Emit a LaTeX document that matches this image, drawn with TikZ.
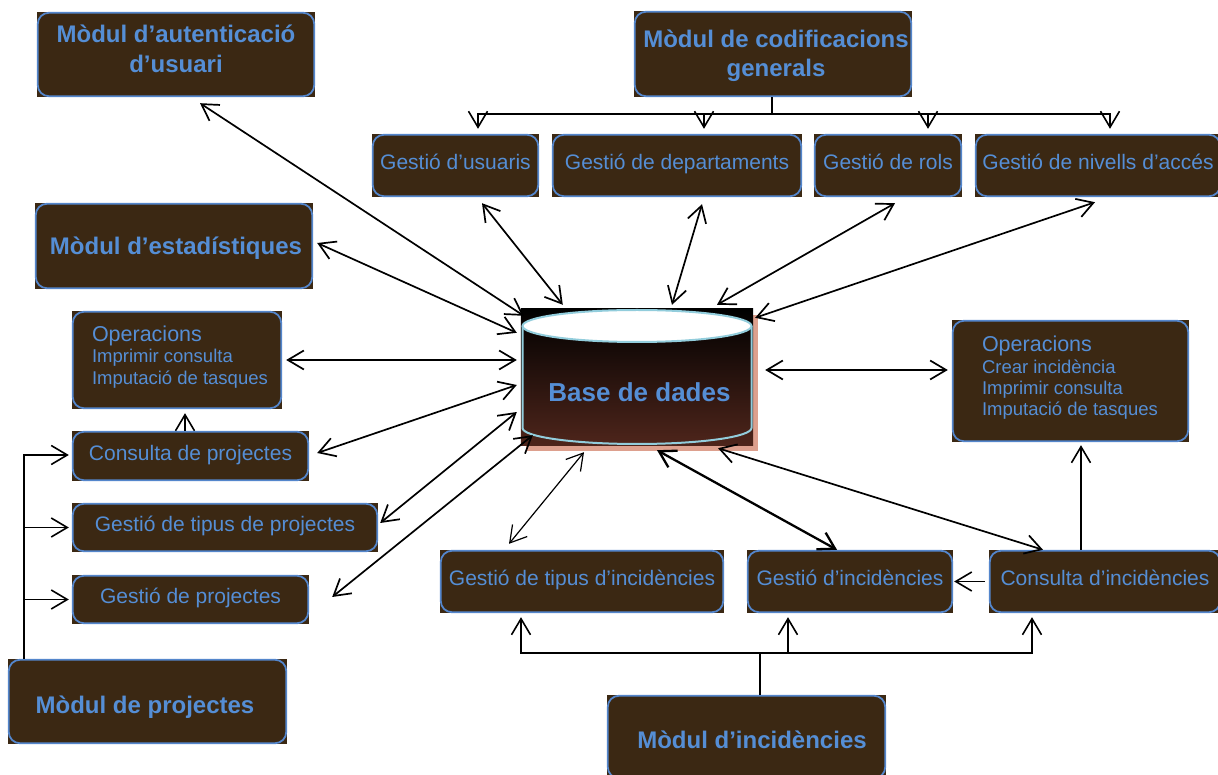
\documentclass[tikz,border=0pt]{standalone}
\usepackage{fontspec}
\setmainfont{Liberation Sans}
\usetikzlibrary{arrows.meta}
\definecolor{boxfill}{RGB}{59,40,19}
\definecolor{txtblue}{RGB}{85,142,213}
\definecolor{edgeblue}{RGB}{84,134,204}
\definecolor{cylline}{RGB}{146,205,220}
\definecolor{dbbottom}{RGB}{78,37,27}
\definecolor{dbshadow}{RGB}{221,160,142}

\begin{document}
\begin{tikzpicture}[x=1pt,y=1pt,
  >={Straight Barb[length=16pt,width=19pt]},
  box/.style={fill=boxfill, inner sep=0pt, text=txtblue,
    font=\fontsize{21}{25}\selectfont, text height=14pt, text depth=5pt},
  boxframe/.style={draw=edgeblue, line width=1.8pt, rounded corners=11pt},
  btext/.style={text=txtblue, font=\fontsize{24}{29}\selectfont\bfseries,
    inner sep=0pt, anchor=base},
  dbtext/.style={text=txtblue, font=\fontsize{26}{30}\selectfont\bfseries,
    inner sep=0pt, anchor=base},
  ophead/.style={text=txtblue, font=\fontsize{21.5}{25}\selectfont,
    inner sep=0pt, anchor=base west},
  opitem/.style={text=txtblue, font=\fontsize{18.5}{22}\selectfont,
    inner sep=0pt, anchor=base west},
  cyl/.style={draw=cylline, line width=2pt},
  link/.style={<->, line width=1.7pt},
  tree/.style={line width=1.6pt},
  branch/.style={->, line width=1.6pt},
]
\fill[white] (0,0) rectangle (1218,774);
\useasboundingbox (0,0) rectangle (1218,774);

% database cylinder
\node[minimum width=232pt, minimum height=136pt, inner sep=0pt] (db) at (637,397) {};
\fill[dbshadow] ([shift={(5pt,-6pt)}]db.south west) rectangle ([shift={(5pt,-6pt)}]db.north east);
\shade[top color=black, bottom color=dbbottom] (db.south west) rectangle (db.north east);
\begin{scope}[shift={(db.center)}]
  \draw[cyl] (-114.5,51) -- (-114.5,-51)
    arc[start angle=180, end angle=360, x radius=114.5, y radius=16] -- (114.5,51);
  \filldraw[cyl, fill=white] (0,51) ellipse[x radius=114.5, y radius=16];
\end{scope}
\node[dbtext] (dbT) at ([xshift=2.5pt,yshift=-24.7pt]db.center) {Base de dades};

% module boxes
\node[box, minimum width=278pt, minimum height=85pt] (auth) at (176,719.5) {};
\node[box, minimum width=278pt, minimum height=86pt] (codif) at (773,720) {};
\node[box, minimum width=278pt, minimum height=86pt] (estad) at (174,528) {};
\node[box, minimum width=279pt, minimum height=85pt] (projM) at (147.5,72.5) {};
\node[box, minimum width=279pt, minimum height=84pt] (incM) at (746.5,37) {};

% general codification boxes
\node[box, minimum width=167pt, minimum height=63pt] (usr) at (455.5,608.5) {Gestió d’usuaris};
\node[box, minimum width=250pt, minimum height=63pt] (dep) at (677,608.5) {Gestió de departaments};
\node[box, minimum width=148pt, minimum height=63pt] (rol) at (888,608.5) {Gestió de rols};
\node[box, minimum width=246pt, minimum height=63pt] (niv) at (1098,608.5) {Gestió de nivells d’accés};

% project boxes
\node[box, minimum width=210pt, minimum height=98pt] (opL) at (177,414) {};
\node[box, minimum width=237pt, minimum height=50pt] (cp) at (190.5,318) {Consulta de projectes};
\node[box, minimum width=306pt, minimum height=49pt] (tp) at (225,246.5) {Gestió de tipus de projectes};
\node[box, minimum width=237pt, minimum height=49pt] (gp) at (190.5,174.5) {Gestió de projectes};

% incidence boxes
\node[box, minimum width=237pt, minimum height=122pt] (opR) at (1070.5,393) {};
\node[box, minimum width=284pt, minimum height=63pt] (tinc) at (582,192.5) {Gestió de tipus d’incidències};
\node[box, minimum width=206pt, minimum height=63pt] (ginc) at (850,192.5) {Gestió d’incidències};
\node[box, minimum width=232pt, minimum height=63pt] (cinc) at (1105,192.5) {Consulta d’incidències};

% rounded frames
\foreach \n in {auth,codif,estad,projM,incM,usr,dep,rol,niv,opL,cp,tp,gp,opR,tinc,ginc,cinc}
  \draw[boxframe] ([shift={(1pt,1pt)}]\n.south west) rectangle ([shift={(-1pt,-1pt)}]\n.north east);

% module titles
\node[btext] (authA) at ([yshift=11.5pt]auth.center) {Mòdul d’autenticació};
\node[btext] (authB) at ([yshift=-18.5pt]auth.center) {d’usuari};
\node[btext] (codifA) at ([xshift=3pt,yshift=6pt]codif.center) {Mòdul de codificacions};
\node[btext] (codifB) at ([xshift=3pt,yshift=-23pt]codif.center) {generals};
\node[btext] (estadT) at ([xshift=2pt,yshift=-9pt]estad.center) {Mòdul d’estadístiques};
\node[btext] (projT) at ([xshift=-2.5pt,yshift=-11.8pt]projM.center) {Mòdul de projectes};
\node[btext] (incT) at ([xshift=5.5pt,yshift=-53.3pt]incM.north) {Mòdul d’incidències};

% operation lists
\node[ophead] (opLa) at ([xshift=20pt,yshift=-31pt]opL.north west) {Operacions};
\node[opitem] (opLb) at ([xshift=20pt,yshift=-52pt]opL.north west) {Imprimir consulta};
\node[opitem] (opLc) at ([xshift=20pt,yshift=-74pt]opL.north west) {Imputació de tasques};
\node[ophead] (opRa) at ([xshift=30pt,yshift=-31.7pt]opR.north west) {Operacions};
\node[opitem] (opRb) at ([xshift=30pt,yshift=-53.3pt]opR.north west) {Crear incidència};
\node[opitem] (opRc) at ([xshift=30pt,yshift=-75pt]opR.north west) {Imprimir consulta};
\node[opitem] (opRd) at ([xshift=30pt,yshift=-96pt]opR.north west) {Imputació de tasques};

% codification tree
\draw[tree] ([xshift=-1pt]codif.south) -- ++(0,-17) coordinate (cbus);
\draw[branch] (cbus) -| ([xshift=22.5pt,yshift=5pt]usr.north);
\draw[branch] (cbus) -| ([xshift=27pt,yshift=5pt]dep.north);
\draw[branch] (cbus) -| ([xshift=40pt,yshift=5pt]rol.north);
\draw[branch] (cbus) -| ([xshift=12pt,yshift=5pt]niv.north);

% project tree
\draw[branch] ([xshift=-123.5pt]projM.north) |- ([xshift=-3pt,yshift=1pt]cp.west);
\draw[branch] ([xshift=-123.5pt]projM.north) |- ([xshift=-3pt]tp.west);
\draw[branch] ([xshift=-123.5pt]projM.north) |- ([xshift=-3pt]gp.west);
\draw[branch] ([xshift=-5.5pt]cp.north) -- ([xshift=8pt,yshift=-4pt]opL.south);

% incidence tree
\draw[tree] ([xshift=13.5pt]incM.north) -- ++(0,42) coordinate (ibus);
\draw[branch] (ibus) -| ([xshift=-61pt,yshift=-4pt]tinc.south);
\draw[branch] (ibus) -| ([xshift=-62pt,yshift=-4pt]ginc.south);
\draw[branch] (ibus) -| ([xshift=-73pt,yshift=-4pt]cinc.south);
\draw[branch] ([xshift=-4pt]cinc.west) -- ([xshift=1pt]ginc.east);
\draw[branch] ([xshift=-24pt]cinc.north) -- ([xshift=10.5pt,yshift=-3pt]opR.south);

% links with the database
\draw[link] ([xshift=24pt,yshift=-6pt]auth.south) -- ([xshift=3pt,yshift=-7pt]db.north west);
\draw[link] ([xshift=4pt,yshift=3pt]estad.east) -- ([xshift=-4pt,yshift=-24pt]db.north west);
\draw[link] ([xshift=4pt]opL.east) -- ([xshift=-4pt,yshift=17pt]db.west);
\draw[link] ([xshift=8pt,yshift=3pt]cp.east) -- ([xshift=-4pt,yshift=-8pt]db.west);
\draw[link] ([xshift=2pt,yshift=4.5pt]tp.east) -- ([xshift=-4pt,yshift=-35pt]db.west);
\draw[link] ([xshift=23pt,yshift=2.5pt]gp.east) -- ([xshift=12pt,yshift=10pt]db.south west);
\draw[link] ([xshift=26.5pt,yshift=-6pt]usr.south) -- ([xshift=42pt,yshift=4pt]db.north west);
\draw[link] ([xshift=25pt,yshift=-7pt]dep.south) -- ([xshift=35pt,yshift=4pt]db.north);
\draw[link] ([xshift=7pt,yshift=-6pt]rol.south) -- ([xshift=80pt,yshift=4pt]db.north);
\draw[link] ([xshift=-3pt,yshift=-5pt]niv.south) -- ([xshift=2pt,yshift=-9pt]db.north east);
\draw[link] ([xshift=12pt,yshift=7pt]db.east) -- ([xshift=-4pt,yshift=11pt]opR.west);
\draw[link, line width=1.2pt] ([xshift=-53pt,yshift=-7pt]db.south) -- ([xshift=-73pt,yshift=6pt]tinc.north);
\draw[link, line width=2.3pt] ([xshift=20pt,yshift=-5pt]db.south) -- ([xshift=-13pt]ginc.north);
\draw[link] ([xshift=81pt,yshift=-3pt]db.south) -- ([xshift=-62pt]cinc.north);
\end{tikzpicture}
\end{document}
